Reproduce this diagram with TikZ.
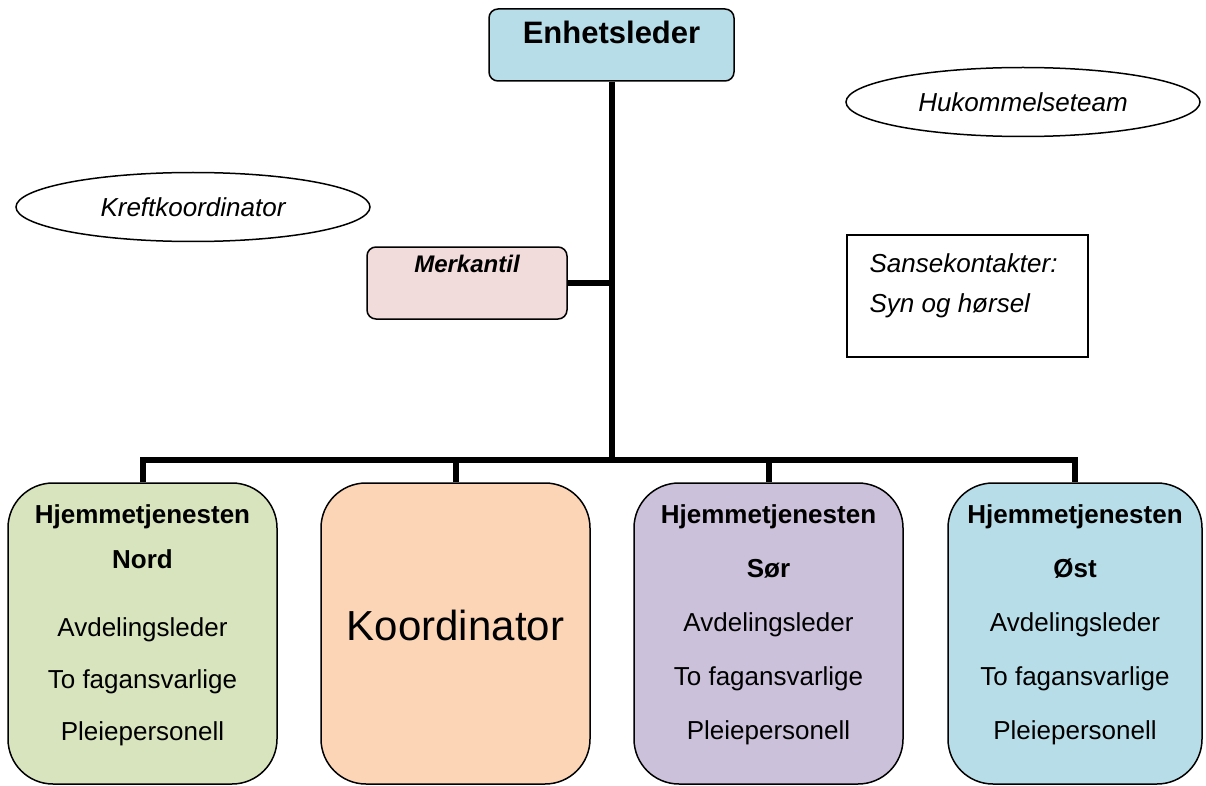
\documentclass[tikz,border=0pt]{standalone}
\usepackage{fontspec}
\setmainfont{Liberation Sans}
\usetikzlibrary{positioning,shapes.geometric,backgrounds}

\definecolor{lederblaa}{HTML}{B7DEE8}
\definecolor{merkrosa}{HTML}{F2DCDB}
\definecolor{nordgronn}{HTML}{D7E4BD}
\definecolor{koordoransje}{HTML}{FBD5B5}
\definecolor{sorlilla}{HTML}{CCC1DA}

\tikzset{
  orgbox/.style={draw, line width=1.5pt, rounded corners=45pt, minimum width=269pt, minimum height=301pt, inner sep=0pt},
  topbox/.style={draw, line width=1.5pt, rounded corners=9pt, inner sep=0pt},
  link/.style={line width=6pt},
  rolle/.style={draw, ellipse, line width=1.5pt, inner sep=0pt, minimum width=354pt, minimum height=69pt, font=\fontsize{26}{30}\selectfont\itshape},
  linjer/.style={align=center, inner sep=0pt, font=\fontsize{26}{54}\selectfont},
}

\begin{document}
\begin{tikzpicture}[x=1pt,y=-1pt]
\useasboundingbox (0,0) rectangle (1206,786);
% toppen
\node[topbox, fill=lederblaa, minimum width=245pt, text height=35pt, text depth=37pt, font=\fontsize{31}{36}\selectfont\bfseries] (leder) at (611.5,45) {Enhetsleder};
\node[topbox, fill=merkrosa, minimum width=200pt, text height=25pt, text depth=47pt, font=\fontsize{24}{28}\selectfont\bfseries\itshape] (merkantil) at (467,283) {Merkantil};
% roller ved siden av
\node[rolle] (kreft) at (193,207) {Kreftkoordinator};
\node[rolle] (hukommelse) at (1023,102) {Hukommelseteam};
\node[draw, line width=1.2pt, minimum width=241pt, minimum height=122pt, inner sep=0pt] (sanse) at (967.5,296) {};
\node[align=left, inner sep=0pt, font=\fontsize{26}{40}\selectfont\itshape, below right=19pt and 23pt of sanse.north west] (sansetxt) {Sansekontakter:\\Syn og hørsel};
% avdelinger
\node[orgbox, fill=nordgronn] (nord) at (142.5,633.5) {};
\node[orgbox, fill=koordoransje, text height=157pt, text depth=144pt, font=\fontsize{42}{48}\selectfont] (koord) at (455.5,633.5) {Koordinator};
\node[orgbox, fill=sorlilla] (sor) at (768.5,633.5) {};
\node[orgbox, fill=lederblaa, minimum width=254pt] (ost) at (1075,633.5) {};
\node[linjer, below=22.5pt of nord.north] (nordtxt) {\textbf{Hjemmetjenesten}\\[-9.5pt]\textbf{Nord}\\[14pt]Avdelingsleder\\[-2pt]To fagansvarlige\\[-2pt]Pleiepersonell};
\node[linjer, below=22.5pt of sor.north] (sortxt) {\textbf{Hjemmetjenesten}\\\textbf{Sør}\\Avdelingsleder\\To fagansvarlige\\Pleiepersonell};
\node[linjer, below=22.5pt of ost.north] (osttxt) {\textbf{Hjemmetjenesten}\\\textbf{Øst}\\Avdelingsleder\\To fagansvarlige\\Pleiepersonell};
% linjer
\begin{scope}[on background layer]
\coordinate (gren) at (611.5,460);
\draw[link] (leder.south) -- (gren);
\draw[link] (merkantil.east) -- (merkantil.east -| leder.south);
\draw[link] (nord.north) |- (gren) -| (ost.north);
\draw[link] (koord.north) -- (koord.north |- gren);
\draw[link] (sor.north) -- (sor.north |- gren);
\end{scope}
\end{tikzpicture}
\end{document}
